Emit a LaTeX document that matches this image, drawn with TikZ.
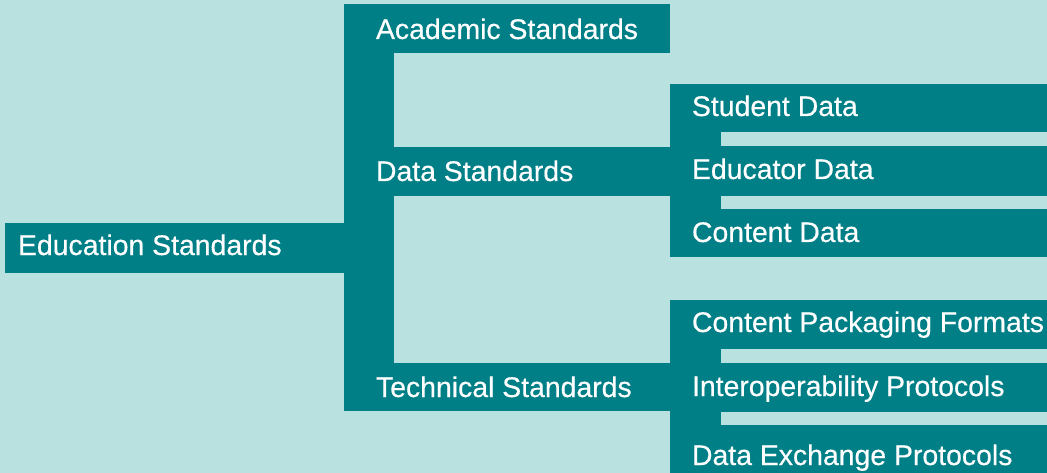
\documentclass[tikz,border=0pt]{standalone}
\usepackage{fontspec}
\newfontfamily\lblfont{Liberation Sans}[FakeBold=0.4]
\definecolor{bgc}{RGB}{185,225,224}
\definecolor{tealc}{RGB}{0,127,135}
\begin{document}
\begin{tikzpicture}[x=1pt,y=-1pt,
  bar/.style={rectangle, fill=tealc, draw=none, inner sep=0pt, outer sep=0pt, anchor=north west},
  lbl/.style={text=white, font=\lblfont\fontsize{28.4}{32}\selectfont, inner sep=0pt, outer sep=0pt, anchor=base west}]
\fill[bgc] (0,0) rectangle (1047,473);
\useasboundingbox (0,0) rectangle (1047,473);
% bars
\node[bar, minimum width=339pt, minimum height=50pt] (edu) at (5,223) {};
\node[bar, minimum width=326pt, minimum height=49pt] (acad) at (344,4) {};
\node[bar, minimum width=326pt, minimum height=49pt] (data) at (344,147) {};
\node[bar, minimum width=326pt, minimum height=48.5pt] (tech) at (344,362.5) {};
\node[bar, minimum width=377pt, minimum height=48.5pt] (stud) at (670,84) {};
\node[bar, minimum width=377pt, minimum height=49.5pt] (educ) at (670,146.5) {};
\node[bar, minimum width=377pt, minimum height=48pt] (cont) at (670,209) {};
\node[bar, minimum width=377pt, minimum height=49pt] (cpf) at (670,300) {};
\node[bar, minimum width=377pt, minimum height=49.5pt] (inter) at (670,362.5) {};
\node[bar, minimum width=377pt, minimum height=49pt] (dex) at (670,425) {};
% spines
\fill[tealc] (acad.north west) rectangle ([xshift=50pt]tech.south west);
\fill[tealc] (stud.north west) rectangle ([xshift=51pt]cont.south west);
\fill[tealc] (cpf.north west) rectangle ([xshift=51pt]dex.south west);
% labels
\node[lbl] (tedu) at (18,255) {Education Standards};
\node[lbl] (tacad) at (376,39) {Academic Standards};
\node[lbl] (tdata) at (376,181) {Data Standards};
\node[lbl] (ttech) at (376,397) {Technical Standards};
\node[lbl] (tstud) at (692,116) {Student Data};
\node[lbl] (teduc) at (692,179) {Educator Data};
\node[lbl] (tcont) at (692,242) {Content Data};
\node[lbl] (tcpf) at (692,332) {Content Packaging Formats};
\node[lbl] (tinter) at (692,396) {Interoperability Protocols};
\node[lbl] (tdex) at (692,465) {Data Exchange Protocols};
\end{tikzpicture}
\end{document}
